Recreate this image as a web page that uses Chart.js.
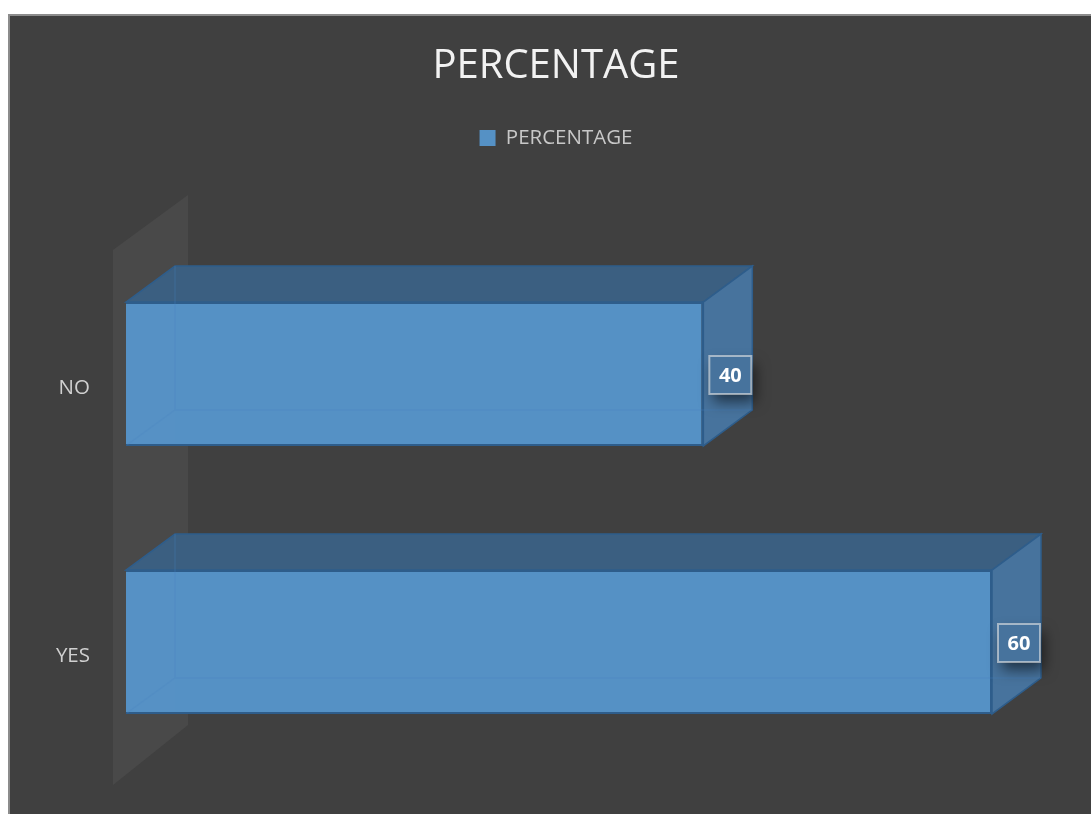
<!DOCTYPE html>
<html>
<head>
<meta charset="utf-8">
<title>PERCENTAGE</title>
<script src="https://cdn.jsdelivr.net/npm/chart.js@4.4.1/dist/chart.umd.min.js"></script>
<style>
  html, body { margin: 0; padding: 0; background: #ffffff; overflow: hidden; }
  #frame {
    position: absolute; left: 8px; top: 14px; width: 1083px; height: 800px;
    background: #404040; border-left: 2px solid #8c8c8c; border-top: 2px solid #8c8c8c;
    overflow: hidden;
  }
  #myChart { display: block; }
</style>
</head>
<body>
<div id="frame"><canvas id="myChart" width="1092" height="798"></canvas></div>
<script>
  const categories = ["NO", "YES"];
  const percentages = [40, 60];
  const seriesName = "PERCENTAGE";

  const fontFamily = "'Open Sans', 'Noto Sans', sans-serif";

  // warna kotak 3D
  const frontColor = "#5591c5";
  const topColor = "#3b5f81";
  const sideColor = "#47739d";
  const edgeColor = "#2e5d8b";
  const wallColor = "#494949";

  // kedalaman kotak (geser ke kanan-atas)
  const dx = 49, dy = -36;

  function poly(ctx, pts) {
    ctx.beginPath();
    ctx.moveTo(pts[0][0], pts[0][1]);
    for (let i = 1; i < pts.length; i++) ctx.lineTo(pts[i][0], pts[i][1]);
    ctx.closePath();
  }

  const bar3d = {
    id: "bar3d",
    beforeDatasetsDraw(chart) {
      const { ctx, chartArea: a } = chart;
      ctx.save();
      // dinding belakang kiri
      ctx.fillStyle = wallColor;
      poly(ctx, [
        [a.left - 13, a.top + 10],
        [a.left + 62, a.top - 45],
        [a.left + 62, a.bottom - 51],
        [a.left - 13, a.bottom + 9],
      ]);
      ctx.fill();

      // sisi atas dan samping tiap batang
      const meta = chart.getDatasetMeta(0);
      meta.data.forEach((bar) => {
        const { x, y, base, height } = bar.getProps(["x", "y", "base", "height"], true);
        const t = y - height / 2, b = y + height / 2;
        ctx.lineWidth = 1.5;
        ctx.strokeStyle = edgeColor;
        ctx.fillStyle = topColor;
        poly(ctx, [[base, t], [base + dx, t + dy], [x + dx, t + dy], [x, t]]);
        ctx.fill();
        ctx.stroke();
        ctx.fillStyle = sideColor;
        poly(ctx, [[x, t], [x + dx, t + dy], [x + dx, b + dy], [x, b]]);
        ctx.fill();
        ctx.stroke();
      });
      ctx.restore();
    },
    afterDatasetsDraw(chart) {
      const { ctx } = chart;
      const meta = chart.getDatasetMeta(0);
      ctx.save();
      meta.data.forEach((bar, i) => {
        const { x, y, base, height } = bar.getProps(["x", "y", "base", "height"], true);
        const t = y - height / 2, b = y + height / 2;

        // rusuk belakang yang tembus pandang
        ctx.strokeStyle = "rgba(70, 130, 190, 0.25)";
        ctx.lineWidth = 1.5;
        ctx.beginPath();
        ctx.moveTo(base + 1, b - 1);
        ctx.lineTo(base + dx, b + dy);
        ctx.lineTo(x + dx, b + dy);
        ctx.moveTo(base + dx, t + dy);
        ctx.lineTo(base + dx, b + dy);
        ctx.stroke();
        ctx.fillStyle = "rgba(100, 150, 200, 0.08)";
        ctx.fillRect(base + 2, t + 2, dx - 2, height - 4);

        // label nilai dalam kotak
        const bw = 42, bh = 38;
        const cx = x + 27, cy = y + 1;
        ctx.save();
        ctx.shadowColor = "rgba(0, 0, 0, 0.55)";
        ctx.shadowBlur = 14;
        ctx.shadowOffsetX = 4;
        ctx.shadowOffsetY = 8;
        ctx.fillStyle = sideColor;
        ctx.fillRect(cx - bw / 2, cy - bh / 2, bw, bh);
        ctx.restore();
        ctx.strokeStyle = "rgba(230, 230, 230, 0.6)";
        ctx.lineWidth = 2;
        ctx.strokeRect(cx - bw / 2, cy - bh / 2, bw, bh);
        ctx.fillStyle = "#ffffff";
        ctx.font = "bold 20px " + fontFamily;
        ctx.textAlign = "center";
        ctx.textBaseline = "middle";
        ctx.fillText(String(percentages[i]), cx, cy + 1);
      });
      ctx.restore();
    },
  };

  const ctx = document.getElementById("myChart").getContext("2d");
  new Chart(ctx, {
    type: "bar",
    data: {
      labels: categories,
      datasets: [
        {
          label: seriesName,
          data: percentages,
          backgroundColor: frontColor,
          borderColor: edgeColor,
          borderWidth: 2,
          categoryPercentage: 1,
          barPercentage: 0.537,
        },
      ],
    },
    options: {
      indexAxis: "y",
      responsive: false,
      devicePixelRatio: 1,
      animation: false,
      layout: { padding: { top: 0, left: 0, right: 0, bottom: 38 } },
      scales: {
        x: {
          type: "linear",
          position: "top",
          min: 0,
          max: 60,
          grid: { display: false },
          border: { display: false },
          ticks: { display: false },
          afterFit(scale) { scale.height = 81.75; },
        },
        y: {
          position: "left",
          grid: { display: false },
          border: { display: false },
          ticks: {
            color: "#d0d0d0",
            font: { family: fontFamily, size: 20.5 },
            padding: 28,
            labelOffset: 14,
          },
          afterFit(scale) {
            scale.width = 116;
            // jangan sisakan ruang ekstra di atas/bawah area grafik
            scale.paddingTop = 0;
            scale.paddingBottom = 0;
          },
        },
        yKanan: {
          type: "linear",
          position: "right",
          grid: { display: false },
          border: { display: false },
          ticks: { display: false },
          afterFit(scale) {
            scale.width = 110;
            scale.paddingTop = 0;
            scale.paddingBottom = 0;
          },
        },
      },
      plugins: {
        title: {
          display: true,
          text: "PERCENTAGE",
          color: "#f2f2f2",
          font: { family: fontFamily, size: 40, weight: "normal" },
          padding: { top: 27, bottom: 26.75 },
        },
        legend: {
          display: true,
          position: "top",
          labels: {
            color: "#c8c8c8",
            font: { family: fontFamily, size: 20.5 },
            boxWidth: 16,
            boxHeight: 16,
            padding: 10,
            generateLabels(chart) {
              const items = Chart.defaults.plugins.legend.labels.generateLabels(chart);
              items.forEach((it) => { it.lineWidth = 0; it.strokeStyle = frontColor; });
              return items;
            },
          },
        },
        tooltip: { enabled: false },
      },
    },
    plugins: [bar3d],
  });
</script>
</body>
</html>
